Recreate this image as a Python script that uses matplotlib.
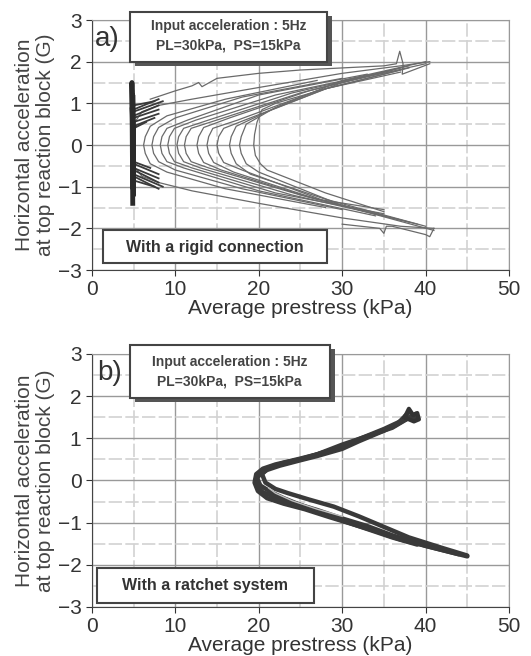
import numpy as np
import matplotlib.pyplot as plt
from matplotlib.patches import Rectangle

plt.rcParams['font.family'] = ['Liberation Sans', 'DejaVu Sans']

# ---- panel a: rigid connection, hand-read loops (upper tip -> vertex -> lower tip)
rigid_loops = [
    [(40.5, 2.0), (37, 1.9), (30, 1.72), (20, 1.38), (12, 1.1), (8, 0.95), (6, 0.8), (5, 0.5), (5, 0.0),
     (5, -0.5), (6, -0.75), (8, -0.9), (12, -1.1), (20, -1.4), (30, -1.75), (37, -1.95), (41, -2.0)],
    [(27, 1.55), (16, 1.1), (9, 0.7), (7.0, 0.45), (6.4, 0.2), (6.2, 0.0), (6.4, -0.2), (7.0, -0.45),
     (9, -0.65), (16, -1.05), (28, -1.5)],
    [(30, 1.6), (18, 1.15), (10, 0.65), (8.0, 0.42), (7.4, 0.2), (7.2, 0.0), (7.4, -0.2), (8.0, -0.4),
     (10, -0.6), (18, -1.05), (30, -1.55)],
    [(33, 1.7), (20, 1.2), (11.5, 0.6), (9.0, 0.4), (8.4, 0.2), (8.2, 0.0), (8.4, -0.2), (9.0, -0.4),
     (11, -0.55), (20, -1.1), (34, -1.7)],
    [(35, 1.75), (22, 1.2), (12.5, 0.6), (9.9, 0.4), (9.3, 0.2), (9.1, 0.0), (9.3, -0.2), (9.9, -0.4),
     (12, -0.55), (22, -1.15), (35, -1.65)],
    [(36, 1.8), (24, 1.25), (14, 0.6), (11.0, 0.4), (10.4, 0.2), (10.2, 0.0), (10.4, -0.2), (11.0, -0.4),
     (13, -0.55), (24, -1.2), (36, -1.75)],
    [(37, 1.85), (25, 1.25), (15, 0.6), (11.9, 0.4), (11.3, 0.2), (11.1, 0.0), (11.3, -0.2), (11.9, -0.4),
     (14, -0.55), (25, -1.2), (37, -1.8)],
    [(38, 1.9), (26, 1.3), (16.5, 0.65), (13.4, 0.42), (12.8, 0.2), (12.6, 0.0), (12.8, -0.2), (13.4, -0.42),
     (15.5, -0.6), (26, -1.25), (38, -1.85)],
    [(37, 1.8), (27, 1.3), (17.5, 0.6), (14.5, 0.4), (14.0, 0.2), (13.8, 0.0), (14.0, -0.2), (14.6, -0.42),
     (17, -0.65), (27, -1.3), (35, -1.55)],
    [(38, 1.85), (28, 1.35), (19, 0.65), (15.8, 0.4), (15.2, 0.2), (15.0, 0.0), (15.2, -0.2), (15.8, -0.42),
     (18, -0.6), (28, -1.35), (39, -1.9)],
    [(40, 1.95), (30, 1.5), (21, 0.8), (17.3, 0.45), (16.7, 0.2), (16.5, 0.0), (16.7, -0.2), (17.3, -0.45),
     (19, -0.7), (28, -1.3), (40, -1.95)],
    [(40, 2.0), (30, 1.55), (22, 0.9), (18.5, 0.5), (17.9, 0.2), (17.7, 0.0), (17.9, -0.2), (18.5, -0.45),
     (20, -0.65), (30, -1.45), (41, -2.05)],
    [(37, 1.75), (28, 1.35), (22, 1.0), (20.4, 0.85), (19.8, 0.55), (19.5, 0.25), (19.4, 0.0), (19.6, -0.25),
     (20.2, -0.45), (21, -0.6), (28, -1.15), (35, -1.6)],
]
# noisy upper envelope and tip details
top_env_x = [7, 10, 12, 12.8, 13.2, 15, 20, 25, 30, 35, 36.5, 36.9, 37.3, 37.2, 40.5]
top_env_y = [1.1, 1.3, 1.42, 1.5, 1.4, 1.6, 1.72, 1.8, 1.85, 1.9, 1.95, 2.25, 1.95, 1.7, 1.95]
low_tip_x = [30, 34.5, 35.0, 35.3, 36, 40, 40.5, 41]
low_tip_y = [-1.9, -2.0, -2.12, -1.95, -1.95, -2.15, -2.2, -2.0]
spine_x = [4.9, 4.8, 5.0, 4.9, 5.0, 4.85, 4.9]
spine_y = [-1.4, 1.5, -1.2, 1.2, -0.9, 0.9, -1.0]
bundle_up = [[(5, 0.45), (7.5, 0.65)], [(5, 0.55), (8, 0.75)], [(5, 0.65), (8, 0.85)],
             [(5, 0.7), (8, 0.95)], [(5, 0.8), (8.5, 1.05)], [(5, 0.85), (8, 1.1)],
             [(5, 0.95), (7.5, 1.05)], [(5, 0.4), (6.5, 0.55)]]
bundle_low = [[(5, -0.4), (7, -0.55)], [(5, -0.45), (8, -0.7)], [(5, -0.55), (8, -0.8)],
              [(5, -0.6), (8, -0.9)], [(5, -0.7), (8.5, -1.0)], [(5, -0.75), (8, -1.05)],
              [(5, -0.85), (7.5, -1.0)]]

# ---- panel b: ratchet system
ratchet_x = [
    [38.5, 37, 35, 32, 30, 27, 25, 22.5, 21, 20, 19.6, 19.8, 20.5, 22, 24, 27, 30, 33, 36, 40, 43, 45],
    [39, 37.5, 35, 32, 30, 27, 25, 22, 20.5, 19.7, 19.5, 19.9, 21, 23, 25.5, 28.5, 31, 34, 37, 41, 44],
    [38, 36.5, 34, 31, 28, 25.5, 23, 21.5, 20.3, 19.8, 20.2, 21.5, 23, 25, 28, 30, 33, 36, 39],
    [38.8, 36, 33, 30, 27, 24, 22, 21, 20.4, 20.8, 22, 23.5, 26, 29, 32, 35, 38, 42, 45],
]
ratchet_y = [
    [1.55, 1.38, 1.18, 0.93, 0.75, 0.58, 0.48, 0.35, 0.25, 0.13, 0.0, -0.15, -0.28, -0.4, -0.52, -0.7, -0.9,
     -1.08, -1.3, -1.55, -1.7, -1.8],
    [1.5, 1.45, 1.22, 0.98, 0.8, 0.62, 0.52, 0.38, 0.28, 0.15, -0.05, -0.25, -0.42, -0.55, -0.68, -0.87, -1.02,
     -1.2, -1.4, -1.6, -1.75],
    [1.62, 1.32, 1.12, 0.88, 0.68, 0.52, 0.42, 0.32, 0.2, 0.05, -0.12, -0.28, -0.42, -0.58, -0.8, -0.95,
     -1.15, -1.35, -1.52],
    [1.58, 1.25, 1.05, 0.85, 0.62, 0.45, 0.35, 0.27, 0.15, -0.05, -0.2, -0.3, -0.45, -0.62, -0.85, -1.1,
     -1.35, -1.6, -1.78],
]
blob_x = [37.5, 38, 38.5, 39, 39.2, 38.6, 38, 37.5]
blob_y = [1.5, 1.7, 1.55, 1.6, 1.45, 1.4, 1.45, 1.5]
ratchet_gap_x = [21.2, 22, 24, 27, 30]
ratchet_gap_y = [-0.18, -0.3, -0.48, -0.68, -0.85]

xticks = [0, 10, 20, 30, 40, 50]
yticks = [-3, -2, -1, 0, 1, 2, 3]


def style_axes(ax):
    ax.set_xlim(0, 50)
    ax.set_ylim(-3, 3)
    ax.set_xticks(xticks)
    ax.set_yticks(yticks)
    ax.set_xticks([5, 15, 25, 35, 45], minor=True)
    ax.set_yticks(np.arange(-2.5, 3, 1.0), minor=True)
    ax.grid(which='major', color='#999999', lw=1.0)
    ax.grid(which='minor', color='#d2d2d2', lw=1.2, ls=(0, (8, 2)))
    ax.tick_params(which='major', direction='out', length=4, labelsize=15, colors='#333333')
    ax.tick_params(which='minor', length=0)
    for s in ax.spines.values():
        s.set_color('#999999')
    ax.spines['left'].set_color('#444444')
    ax.spines['bottom'].set_color('#444444')
    ax.set_xlabel('Average prestress (kPa)', fontsize=15, color='#333333', labelpad=0)
    ax.set_ylabel('Horizontal acceleration\nat top reaction block (G)', fontsize=15,
                  color='#444444', labelpad=2, linespacing=1.1)
    ax.set_axisbelow(True)


def shadow_box(ax, x0, y0, x1, y1, lw=1.5, shadow=True):
    if shadow:
        ax.add_patch(Rectangle((x0 + 0.6, y0 - 0.1), x1 - x0, y1 - y0, facecolor='#555555',
                               edgecolor='none', clip_on=False, zorder=5))
    ax.add_patch(Rectangle((x0, y0), x1 - x0, y1 - y0, facecolor='white', edgecolor='#444444',
                           lw=lw, clip_on=False, zorder=6))


fig = plt.figure(figsize=(5.31, 6.56), dpi=100)
ax1 = fig.add_axes([0.173, 0.5884, 0.7856, 0.3811])
ax2 = fig.add_axes([0.173, 0.0747, 0.7856, 0.3857])

# panel a
style_axes(ax1)
for loop in rigid_loops:
    xs, ys = zip(*loop)
    ax1.plot(xs, ys, color='#6a6a6a', lw=0.9, zorder=3)
for seg in bundle_up + bundle_low:
    xs, ys = zip(*seg)
    ax1.plot(xs, ys, color='#3a3a3a', lw=1.3, zorder=3)
ax1.plot(top_env_x, top_env_y, color='#6a6a6a', lw=0.9, zorder=3)
ax1.plot(low_tip_x, low_tip_y, color='#6a6a6a', lw=0.9, zorder=3)
ax1.plot(spine_x, spine_y, color='#2a2a2a', lw=3.5, zorder=4)
ax1.text(0.4, 2.55, 'a)', fontsize=20, color='#333333', va='center', zorder=7)
shadow_box(ax1, 4.6, 2.0, 28.2, 3.2)
ax1.text(16.4, 2.85, 'Input acceleration : 5Hz', fontsize=10, ha='center', va='center',
         color='#444444', fontweight='bold', zorder=7)
ax1.text(16.4, 2.38, 'PL=30kPa,  PS=15kPa', fontsize=10, ha='center', va='center',
         color='#444444', fontweight='bold', zorder=7)
shadow_box(ax1, 1.3, -2.83, 28.2, -2.04, shadow=False)
ax1.text(14.7, -2.45, 'With a rigid connection', fontsize=11.5, ha='center', va='center',
         color='#333333', fontweight='bold', zorder=7)

# panel b
style_axes(ax2)
for xs, ys in zip(ratchet_x, ratchet_y):
    ax2.plot(xs, ys, color='#3a3a3a', lw=3.2, zorder=3, solid_capstyle='round')
ax2.plot(ratchet_gap_x, ratchet_gap_y, color='#bdbdbd', lw=1.0, zorder=4)
ax2.plot(blob_x, blob_y, color='#333333', lw=3.0, zorder=3)
ax2.text(0.6, 2.55, 'b)', fontsize=20, color='#333333', va='center', zorder=7)
shadow_box(ax2, 4.6, 1.96, 28.5, 3.21)
ax2.text(16.5, 2.82, 'Input acceleration : 5Hz', fontsize=10, ha='center', va='center',
         color='#444444', fontweight='bold', zorder=7)
ax2.text(16.5, 2.35, 'PL=30kPa,  PS=15kPa', fontsize=10, ha='center', va='center',
         color='#444444', fontweight='bold', zorder=7)
shadow_box(ax2, 0.6, -2.9, 26.6, -2.07, shadow=False)
ax2.text(13.6, -2.48, 'With a ratchet system', fontsize=11.5, ha='center', va='center',
         color='#333333', fontweight='bold', zorder=7)

fig.savefig('out.png', dpi=100)
